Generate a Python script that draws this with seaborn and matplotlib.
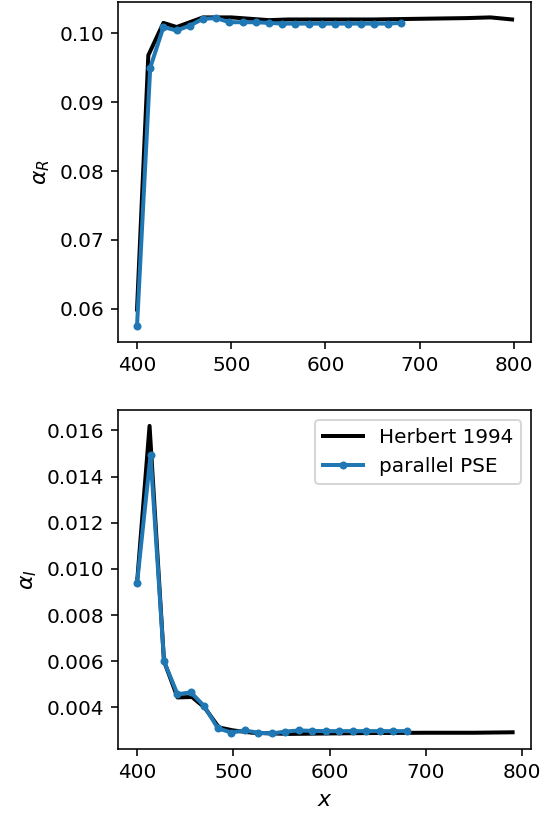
import numpy as np
import pandas as pd
import matplotlib
matplotlib.use("Agg")
import matplotlib.pyplot as plt
import seaborn as sns

# Herbert 1994 (reference data)
herb_x_R = [400, 412, 428, 442, 456, 470, 485, 500, 520, 540, 560, 600, 650, 700, 750, 775, 798]
herb_aR = [0.0599, 0.0968, 0.1015, 0.1009, 0.1016, 0.1023, 0.1023, 0.1023, 0.1021, 0.1019, 0.1020,
           0.1020, 0.1020, 0.1021, 0.1022, 0.1023, 0.1020]

herb_x_I = [400, 413, 428, 442, 457, 470, 485, 500, 520, 540, 560, 600, 650, 700, 750, 790]
herb_aI = [0.0094, 0.0162, 0.0060, 0.00443, 0.00445, 0.0040, 0.00313, 0.0030, 0.0029, 0.00287,
           0.00285, 0.00287, 0.00289, 0.0029, 0.0029, 0.00292]

# parallel PSE
pse_x = [400, 414, 428, 442, 456, 470, 484, 498, 512, 526, 540, 554, 568, 582, 596, 610,
         624, 638, 652, 666, 680]
pse_aR = [0.0575, 0.0950, 0.1009, 0.1004, 0.1011, 0.1021, 0.1022, 0.1016, 0.1016, 0.1016,
          0.1015, 0.1014, 0.1014, 0.1014, 0.1014, 0.1014, 0.1014, 0.1014, 0.1014, 0.1014, 0.1015]
pse_aI = [0.00938, 0.01493, 0.0060, 0.00457, 0.00465, 0.00404, 0.00309, 0.00291, 0.0030,
          0.0029, 0.00287, 0.00295, 0.0030, 0.00298, 0.00297, 0.00297, 0.00297, 0.00297,
          0.00297, 0.00297, 0.00297]

fig = plt.figure(figsize=(545 / 144, 819 / 144), dpi=144)
ax1 = fig.add_axes([0.217, 0.583, 0.757, 0.4146])
ax2 = fig.add_axes([0.217, 0.0851, 0.758, 0.4137])

blue = "#1f77b4"
lw = 2.0
ms = 4
sns.lineplot(x=herb_x_R, y=herb_aR, ax=ax1, color="black", lw=lw, label="Herbert 1994", legend=False)
sns.lineplot(x=pse_x, y=pse_aR, ax=ax1, color=blue, lw=lw, marker="o", markersize=ms,
             markeredgecolor=blue, markeredgewidth=0, label="parallel PSE", legend=False)
ax1.set_ylabel(r"$\alpha_R$", fontsize=11)
ax1.set_yticks([0.06, 0.07, 0.08, 0.09, 0.10])
ax1.set_xticks([400, 500, 600, 700, 800])

sns.lineplot(x=herb_x_I, y=herb_aI, ax=ax2, color="black", lw=lw, label="Herbert 1994")
sns.lineplot(x=pse_x, y=pse_aI, ax=ax2, color=blue, lw=lw, marker="o", markersize=ms,
             markeredgecolor=blue, markeredgewidth=0, label="parallel PSE")
ax2.set_ylabel(r"$\alpha_I$", fontsize=11)
ax2.set_xlabel(r"$x$", fontsize=11)
ax2.set_xticks([400, 500, 600, 700, 800])
ax2.set_yticks([0.004, 0.006, 0.008, 0.010, 0.012, 0.014, 0.016])
ax2.legend(loc="upper right")

fig.savefig("out.png", dpi=144)
